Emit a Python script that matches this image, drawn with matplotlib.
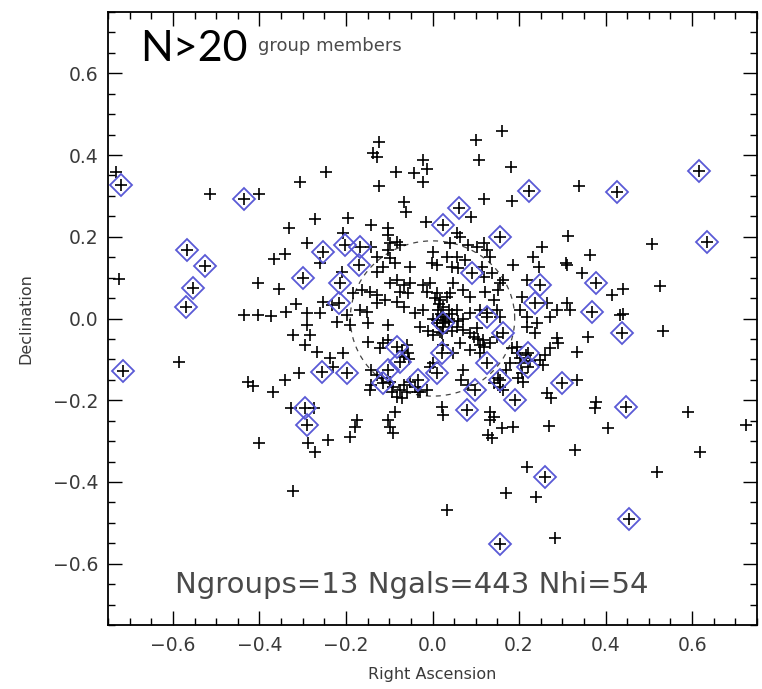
import matplotlib
matplotlib.use("Agg")
import matplotlib.pyplot as plt
import numpy as np
from matplotlib.ticker import MultipleLocator

# ---------------- data (RA, Dec offsets) ----------------
gal_points = [
    # left region
    (-0.731, 0.358), (-0.514, 0.305), (-0.402, 0.305), (-0.332, 0.221), (-0.725, 0.097),
    (-0.366, 0.145), (-0.340, 0.159), (-0.404, 0.088), (-0.355, 0.071), (-0.315, 0.036),
    (-0.435, 0.008), (-0.404, 0.008), (-0.373, 0.006), (-0.339, 0.016), (-0.306, 0.334),
    (-0.585, -0.106), (-0.427, -0.155), (-0.416, -0.165), (-0.368, -0.179), (-0.340, -0.150),
    (-0.327, -0.220), (-0.400, -0.304), (-0.322, -0.421), (-0.323, -0.040), (-0.308, -0.134),
    # upper centre-left
    (-0.124, 0.431), (-0.137, 0.404), (-0.128, 0.396), (-0.246, 0.359), (-0.085, 0.358),
    (-0.042, 0.355), (-0.023, 0.388), (-0.013, 0.367), (-0.021, 0.335), (-0.124, 0.324),
    (-0.066, 0.286), (-0.061, 0.261), (-0.272, 0.243), (-0.195, 0.245), (-0.015, 0.237),
    (-0.141, 0.229), (-0.102, 0.221), (-0.104, 0.204), (-0.206, 0.208), (-0.291, 0.184),
    (-0.141, 0.176), (-0.098, 0.184), (-0.102, 0.168), (-0.083, 0.188), (-0.075, 0.180),
    (-0.129, 0.151), (-0.098, 0.147), (-0.087, 0.135), (-0.052, 0.127), (0.002, 0.163),
    (-0.002, 0.135), (0.010, 0.131), (0.033, 0.151), (-0.260, 0.135), (-0.210, 0.115),
    (-0.129, 0.115), (-0.114, 0.127), (-0.164, 0.070), (-0.144, 0.066), (-0.129, 0.057),
    (-0.098, 0.086), (-0.083, 0.094), (-0.067, 0.082), (-0.052, 0.086), (-0.075, 0.066),
    (-0.056, 0.062), (-0.021, 0.082), (-0.006, 0.086), (-0.013, 0.066), (0.010, 0.062),
    (0.017, 0.045), (0.025, 0.029), (0.013, 0.021), (0.033, 0.053), (0.037, 0.021),
    (-0.252, 0.041), (-0.233, 0.033), (-0.183, 0.062), (-0.129, 0.037), (-0.110, 0.045),
    (-0.083, 0.041), (-0.067, 0.029), (-0.291, 0.013), (-0.040, 0.013), (-0.021, 0.021),
    (-0.260, 0.013), (-0.168, 0.021), (-0.152, 0.017), (-0.198, 0.009),
    # lower centre-left
    (-0.291, -0.016), (-0.283, -0.040), (-0.295, -0.065), (-0.221, -0.008), (-0.191, -0.016),
    (-0.148, -0.012), (-0.102, -0.016), (-0.148, -0.057), (-0.121, -0.073), (-0.114, -0.061),
    (-0.102, -0.053), (-0.268, -0.081), (-0.237, -0.097), (-0.206, -0.085), (-0.229, -0.118),
    (-0.141, -0.126), (-0.129, -0.138), (-0.117, -0.146), (-0.144, -0.175), (-0.141, -0.163),
    (-0.098, -0.155), (-0.091, -0.167), (-0.094, -0.179), (-0.075, -0.175), (-0.067, -0.163),
    (-0.060, -0.179), (-0.052, -0.155), (-0.040, -0.167), (-0.033, -0.179), (-0.083, -0.191),
    (-0.071, -0.195), (-0.056, -0.085), (-0.060, -0.065), (-0.013, -0.175), (-0.029, -0.179),
    (0.025, -0.065), (0.021, -0.036), (0.002, -0.110), (-0.006, -0.118), (0.021, -0.216),
    (0.025, -0.236), (0.033, -0.469), (-0.275, -0.220), (-0.287, -0.305), (-0.272, -0.326),
    (-0.241, -0.297), (-0.175, -0.248), (-0.179, -0.265), (-0.191, -0.289), (-0.102, -0.248),
    (-0.098, -0.265), (-0.091, -0.281), (-0.087, -0.228),
    # upper centre-right
    (0.101, 0.437), (0.160, 0.459), (0.108, 0.388), (0.181, 0.371), (0.339, 0.324),
    (0.120, 0.292), (0.183, 0.287), (0.088, 0.248), (0.314, 0.202), (0.252, 0.176),
    (0.233, 0.151), (0.364, 0.155), (0.309, 0.137), (0.312, 0.131), (0.245, 0.127),
    (0.345, 0.111), (0.187, 0.131), (0.218, 0.094), (0.206, 0.053), (0.264, 0.037),
    (0.287, 0.021), (0.272, 0.004), (0.310, 0.037), (0.318, 0.021), (0.056, 0.208),
    (0.064, 0.200), (0.040, 0.184), (0.083, 0.180), (0.102, 0.176), (0.118, 0.184),
    (0.125, 0.168), (0.056, 0.151), (0.044, 0.127), (0.060, 0.123), (0.075, 0.143),
    (0.114, 0.127), (0.137, 0.111), (0.118, 0.102), (0.133, 0.151), (0.048, 0.086),
    (0.040, 0.062), (0.071, 0.070), (0.087, 0.053), (0.156, 0.086), (0.164, 0.094),
    (0.152, 0.070), (0.141, 0.045), (0.121, 0.066), (0.110, 0.021), (0.125, 0.013),
    (0.148, 0.021), (0.156, 0.004), (0.087, 0.013), (0.056, 0.021), (0.202, 0.021),
    (0.218, 0.004),
    # lower centre-right
    (0.283, -0.538), (0.170, -0.426), (0.239, -0.438), (0.218, -0.363), (0.329, -0.322),
    (0.270, -0.263), (0.133, -0.228), (0.133, -0.248), (0.141, -0.240), (0.129, -0.285),
    (0.137, -0.293), (0.160, -0.269), (0.187, -0.265), (0.264, -0.183), (0.275, -0.195),
    (0.333, -0.150), (0.376, -0.220), (0.379, -0.204), (0.360, -0.045), (0.333, -0.081),
    (0.287, -0.048), (0.291, -0.061), (0.272, -0.073), (0.248, -0.102), (0.260, -0.089),
    (0.256, -0.114), (0.206, -0.134), (0.210, -0.155), (0.198, -0.146), (0.141, -0.159),
    (0.156, -0.167), (0.164, -0.175), (0.152, -0.146), (0.071, -0.126), (0.067, -0.150),
    (0.083, -0.163), (0.056, -0.020), (0.071, -0.028), (0.087, -0.036), (0.102, -0.024),
    (0.117, -0.053), (0.133, -0.061), (0.148, -0.045), (0.183, -0.073), (0.195, -0.085),
    (0.202, -0.097), (0.087, -0.077), (0.110, -0.085), (0.064, -0.061), (0.048, -0.085),
    (0.179, -0.110), (0.171, -0.126), (0.218, -0.020), (0.241, -0.012), (0.237, -0.036),
    # right region
    (0.507, 0.183), (0.526, 0.080), (0.414, 0.057), (0.440, 0.071), (0.441, 0.012),
    (0.433, 0.008), (0.533, -0.030), (0.406, -0.269), (0.591, -0.230), (0.618, -0.326),
    (0.520, -0.375), (0.725, -0.261),
    # dense core
    (0.025, 0.004), (0.010, -0.004), (0.037, 0.000), (0.010, -0.012), (0.025, -0.020),
    (0.037, -0.008), (0.017, -0.032), (0.002, -0.040),
    (0.005, 0.050), (0.020, 0.010), (0.030, -0.005), (0.015, 0.035), (0.045, 0.010),
    (0.105, -0.050), (0.120, -0.070), (0.110, -0.065), (0.095, -0.045),
    (0.195, -0.070), (0.215, -0.090), (0.225, -0.105), (0.205, -0.110),
    (-0.070, -0.080), (-0.055, -0.100), (-0.065, -0.095),
    (-0.030, -0.020), (-0.010, -0.030), (0.000, 0.000), (0.045, -0.030), (0.060, -0.005),
    (0.070, 0.000),
]

hi_points = [
    (-0.720, 0.326), (-0.435, 0.293), (-0.567, 0.168), (-0.526, 0.128), (-0.553, 0.075),
    (-0.570, 0.028), (-0.716, -0.128),
    (-0.299, 0.098), (-0.252, 0.163), (-0.202, 0.180), (-0.168, 0.176), (-0.169, 0.131),
    (-0.214, 0.086), (-0.215, 0.039), (0.025, 0.229),
    (-0.256, -0.130), (-0.198, -0.134), (-0.083, -0.069), (-0.075, -0.106), (-0.102, -0.126),
    (-0.033, -0.150), (0.010, -0.134), (0.021, -0.085), (-0.295, -0.220), (-0.291, -0.261),
    (0.224, 0.312), (0.062, 0.270), (0.155, 0.200), (0.091, 0.111), (0.379, 0.086),
    (0.248, 0.082), (0.237, 0.037), (0.368, 0.017),
    (0.164, -0.036), (0.221, -0.118), (0.221, -0.085), (0.299, -0.159), (0.125, -0.110),
    (0.098, -0.175), (0.079, -0.224), (0.191, -0.199), (0.260, -0.387), (0.156, -0.552),
    (0.616, 0.360), (0.426, 0.310), (0.634, 0.186), (0.437, -0.035), (0.447, -0.217),
    (0.455, -0.491),
    (0.025, -0.012), (0.125, 0.004), (0.156, -0.150), (-0.114, -0.159),
]

ra_gal = [p[0] for p in gal_points] + [p[0] for p in hi_points]
dec_gal = [p[1] for p in gal_points] + [p[1] for p in hi_points]
ra_hi = [p[0] for p in hi_points]
dec_hi = [p[1] for p in hi_points]

circle_center = (0.0, 0.0)
circle_radius = 0.19

x_ticks = [-0.6, -0.4, -0.2, 0.0, 0.2, 0.4, 0.6]
y_ticks = [-0.6, -0.4, -0.2, 0.0, 0.2, 0.4, 0.6]
tick_labels = ["\u22120.6", "\u22120.4", "\u22120.2", "0.0", "0.2", "0.4", "0.6"]

title_big = "N>20"
title_small = "group members"
footer = "Ngroups=13 Ngals=443 Nhi=54"

# ---------------- figure ----------------
fig = plt.figure(figsize=(7.62, 6.89), dpi=100)
L, R, T, B = 108, 757, 12, 625
ax = fig.add_axes([L / 762, 1 - B / 689, (R - L) / 762, (B - T) / 689])

ax.set_xlim(-0.75, 0.75)
ax.set_ylim(-0.75, 0.75)

theta = np.linspace(0, 2 * np.pi, 200)
ax.plot(circle_center[0] + circle_radius * np.cos(theta),
        circle_center[1] + circle_radius * np.sin(theta),
        ls=(0, (4, 4)), color="#444444", lw=0.9, zorder=1)

ax.plot(ra_gal, dec_gal, ls="none", marker="+", ms=8, mew=1.2, color="black", zorder=3)
ax.plot(ra_hi, dec_hi, ls="none", marker="D", ms=11.5, mfc="none", mec="#5a5ad6",
        mew=1.3, zorder=4)

ax.set_xticks(x_ticks)
ax.set_xticklabels(tick_labels)
ax.set_yticks(y_ticks)
ax.set_yticklabels(tick_labels)
ax.xaxis.set_minor_locator(MultipleLocator(0.05))
ax.yaxis.set_minor_locator(MultipleLocator(0.05))
ax.tick_params(which="both", direction="in", top=True, right=True, color="black", width=1.0)
ax.tick_params(which="major", length=10, labelsize=13.5, labelcolor="#3a3a3a")
ax.tick_params(which="minor", length=5)
ax.tick_params(axis="x", which="major", pad=8)
ax.tick_params(axis="y", which="major", pad=7)
for s in ax.spines.values():
    s.set_linewidth(1.3)

ax.set_xlabel("Right Ascension", fontsize=11.5, color="#3a3a3a")
ax.set_ylabel("Declination", fontsize=11.5, color="#3a3a3a")
ax.xaxis.set_label_coords(0.5, -0.069)
ax.yaxis.set_label_coords(-0.115, 0.5)

ax.text(0.049, 0.92, title_big, transform=ax.transAxes, fontsize=31,
        family=["Lato", "DejaVu Sans"], color="black", va="baseline", ha="left")
ax.text(0.231, 0.937, title_small, transform=ax.transAxes, fontsize=13,
        color="#4a4a4a", va="baseline", ha="left")
ax.text(0.103, 0.053, footer, transform=ax.transAxes, fontsize=21,
        color="#4a4a4a", va="baseline", ha="left")

fig.savefig("out.png", dpi=100)
